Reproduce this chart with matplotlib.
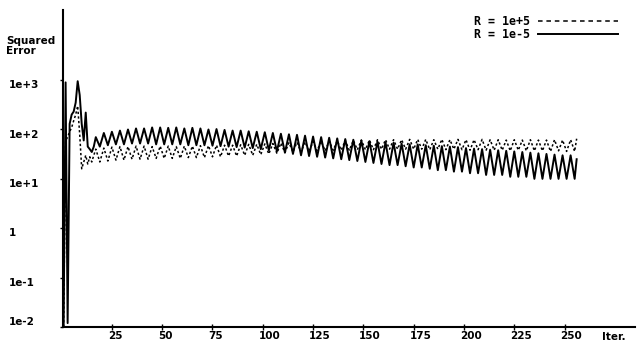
import matplotlib
matplotlib.use("Agg")
import matplotlib.pyplot as plt
import matplotlib.transforms as mtransforms

# ---------------- data ----------------
iter_early = list(range(1, 17))
solid_early = [0.01, 900, 0.012, 130, 200, 230, 350, 950, 500, 130, 60, 220, 45, 40, 35, 45]
dotted_early = [0.01, 60, 70, 90, 110, 150, 200, 300, 80, 16, 22, 30, 20, 28, 22, 30]

iter_osc = list(range(17, 256, 2)) + [256]

solid_peaks = [70, 85, 90, 95, 100, 105, 105, 110, 110, 108,
               110, 105, 108, 105, 100, 102, 98, 95, 95, 92,
               90, 88, 85, 82, 80, 78, 75, 72, 70, 68,
               66, 64, 62, 60, 58, 57, 55, 54, 52, 50,
               50, 48, 47, 46, 45, 44, 42, 41, 40, 39,
               38, 37, 36, 35, 34, 33, 32, 31, 30, 30]
solid_troughs = [45, 48, 50, 50, 52, 52, 52, 50, 50, 50,
                 50, 48, 48, 48, 47, 46, 45, 44, 43, 42,
                 40, 38, 36, 34, 32, 30, 29, 28, 27, 26,
                 25, 24, 23, 22, 21, 20, 19, 19, 18, 17,
                 17, 16, 15, 15, 14, 14, 13, 13, 12, 12,
                 12, 11, 11, 11, 10, 10, 10, 10, 10, 10]
solid_last = 25

dotted_peaks = [40, 42, 44, 45, 45, 46, 46, 45, 46, 46,
                45, 46, 46, 47, 47, 48, 48, 48, 49, 50,
                50, 51, 52, 53, 54, 55, 56, 57, 58, 58,
                59, 60, 60, 61, 61, 62, 62, 62, 62, 63,
                63, 63, 62, 63, 62, 63, 62, 62, 63, 62,
                62, 61, 62, 61, 62, 61, 61, 62, 61, 62]
dotted_troughs = [22, 23, 24, 24, 25, 25, 25, 26, 26, 26,
                  26, 27, 27, 27, 28, 28, 29, 29, 30, 30,
                  31, 32, 33, 34, 35, 35, 36, 37, 37, 38,
                  38, 38, 39, 39, 39, 40, 40, 40, 40, 40,
                  40, 39, 40, 39, 40, 39, 38, 39, 38, 38,
                  38, 37, 38, 37, 37, 37, 36, 37, 36, 36]
dotted_last = 65

y_ticks = [1e-2, 1e-1, 1, 1e1, 1e2, 1e3]
y_labels = ["1e-2", "1e-1", "1", "1e+1", "1e+2", "1e+3"]
x_ticks = [25, 50, 75, 100, 125, 150, 175, 200, 225, 250]
series_labels = ["R = 1e+5", "R = 1e-5"]

# ---------------- assemble series ----------------
def zigzag(peaks, troughs, last):
    out = []
    for p, t in zip(peaks, troughs):
        out += [p, t]
    return out + [last]

x_all = iter_early + iter_osc
solid_all = solid_early + zigzag(solid_peaks, solid_troughs, solid_last)
dotted_all = dotted_early + zigzag(dotted_peaks, dotted_troughs, dotted_last)

# ---------------- figure ----------------
W, H = 640, 342
fig = plt.figure(figsize=(W / 100, H / 100), dpi=100)
fig.patch.set_facecolor("white")
left, right, bottom, top = 63, 635, 327, 10
ax = fig.add_axes([left / W, 1 - bottom / H, (right - left) / W, (bottom - top) / H])

FONT = dict(family="DejaVu Sans", weight="bold", size=7.5)

l1, = ax.plot(x_all, dotted_all, color="black", lw=1.1, linestyle=(0, (1.5, 1.5)),
              label=series_labels[0])
l2, = ax.plot(x_all, solid_all, color="black", lw=1.4, label=series_labels[1])

ax.set_yscale("log")
ax.set_xlim(0.7, 285)
ax.set_ylim(1e-2, 10 ** 4.42)

for s in ["top", "right"]:
    ax.spines[s].set_visible(False)
for s in ["left", "bottom"]:
    ax.spines[s].set_linewidth(1.5)

ax.set_yticks(y_ticks)
ax.set_yticklabels(y_labels, fontdict=FONT)
ax.tick_params(axis="y", which="major", direction="out", length=2, width=1, pad=37)
ax.tick_params(axis="y", which="minor", direction="out", length=1, width=0.8)
for lab in ax.get_yticklabels():
    lab.set_horizontalalignment("left")
for lab, tv in zip(ax.get_yticklabels(), y_ticks):
    dy = 4 / 72 if tv == 1e-2 else -3 / 72
    lab.set_transform(lab.get_transform() + mtransforms.ScaledTranslation(0, dy, fig.dpi_scale_trans))

ax.set_xticks(x_ticks)
ax.set_xticklabels([str(v) for v in x_ticks], fontdict=FONT)
ax.tick_params(axis="x", direction="inout", length=4, width=1, pad=1)
for lab in ax.get_xticklabels():
    lab.set_horizontalalignment("left")
    lab.set_transform(lab.get_transform() + mtransforms.ScaledTranslation(-3 / 72, 0, fig.dpi_scale_trans))

fig.text(6 / W, 1 - 36 / H, "Squared\nError", ha="left", va="top", linespacing=0.95, **FONT)
fig.text(602 / W, 1 - 332 / H, "Iter.", ha="left", va="top", **FONT)

leg = ax.legend(handles=[l1, l2], loc="upper right", bbox_to_anchor=(618 / W, 1 - 15 / H),
                bbox_transform=fig.transFigure, frameon=False, markerfirst=False,
                prop=dict(family="DejaVu Sans Mono", weight="bold", size=8.4),
                handlelength=6.9, handletextpad=0.6, labelspacing=0.0, borderpad=0,
                borderaxespad=0)
leg.get_lines()[0].set_linestyle((0, (3, 2.5)))

fig.savefig("out.png", dpi=100)
